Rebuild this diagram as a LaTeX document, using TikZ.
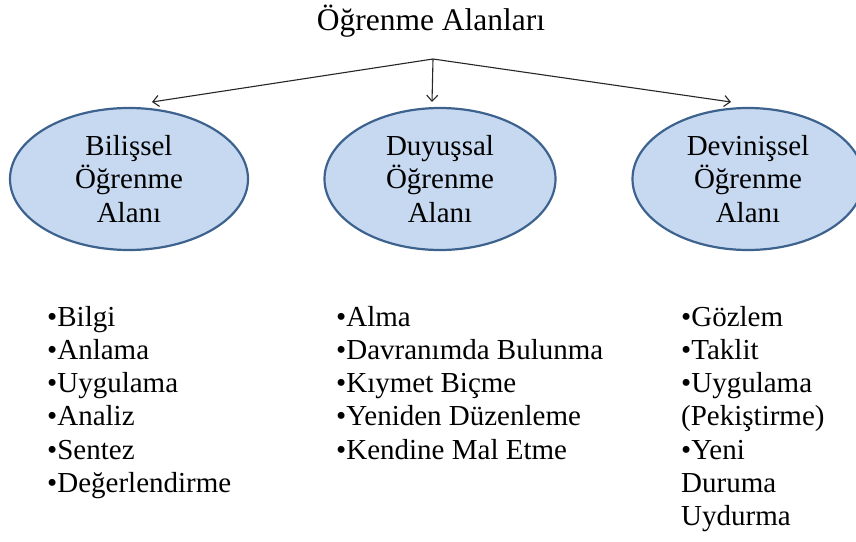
\documentclass[tikz,border=0pt]{standalone}
\usepackage{fontspec}
\setmainfont{Liberation Serif}
\usetikzlibrary{arrows.meta,shapes.geometric}
\definecolor{efill}{RGB}{198,217,241}
\definecolor{edraw}{RGB}{62,98,142}
\begin{document}
\begin{tikzpicture}[x=1pt,y=-1pt,
  area/.style={ellipse, draw=edraw, line width=2.2pt, fill=efill, inner sep=0pt,
    align=center, minimum height=142pt, font=\fontsize{29}{33.3}\selectfont},
  item/.style={anchor=base west, align=left, inner sep=0pt,
    font=\fontsize{29}{33.3}\selectfont},
  conn/.style={-{Straight Barb[length=6pt,width=11pt]}, line width=1.1pt, draw=black!85}]
\useasboundingbox (0,0) rectangle (856,541);
\node[anchor=base, inner sep=0pt, font=\fontsize{31.5}{36}\selectfont] (title) at (431,30) {Öğrenme Alanları};
\node[area, minimum width=238pt] (cog) at (129,179) {Bilişsel\\Öğrenme\\Alanı};
\node[area, minimum width=231pt] (aff) at (440,179) {Duyuşsal\\Öğrenme\\Alanı};
\node[area, minimum width=231pt] (psy) at (748,179) {Devinişsel\\Öğrenme\\Alanı};
\coordinate (apex) at (433,59);
\coordinate (tl) at (152,102);
\coordinate (tm) at (432,102);
\coordinate (tr) at (731,102);
\draw[conn] (apex) -- (tl);
\draw[conn] (apex) -- (tm);
\draw[conn] (apex) -- (tr);
% anchor base = baseline of the last line
\node[item] (lcog) at (47,492.5) {•Bilgi\\•Anlama\\•Uygulama\\•Analiz\\•Sentez\\•Değerlendirme};
\node[item] (laff) at (336,459.2) {•Alma\\•Davranımda Bulunma\\•Kıymet Biçme\\•Yeniden Düzenleme\\•Kendine Mal Etme};
\node[item] (lpsy) at (681,525.8) {•Gözlem\\•Taklit\\•Uygulama\\(Pekiştirme)\\•Yeni\\Duruma\\Uydurma};
\end{tikzpicture}
\end{document}
